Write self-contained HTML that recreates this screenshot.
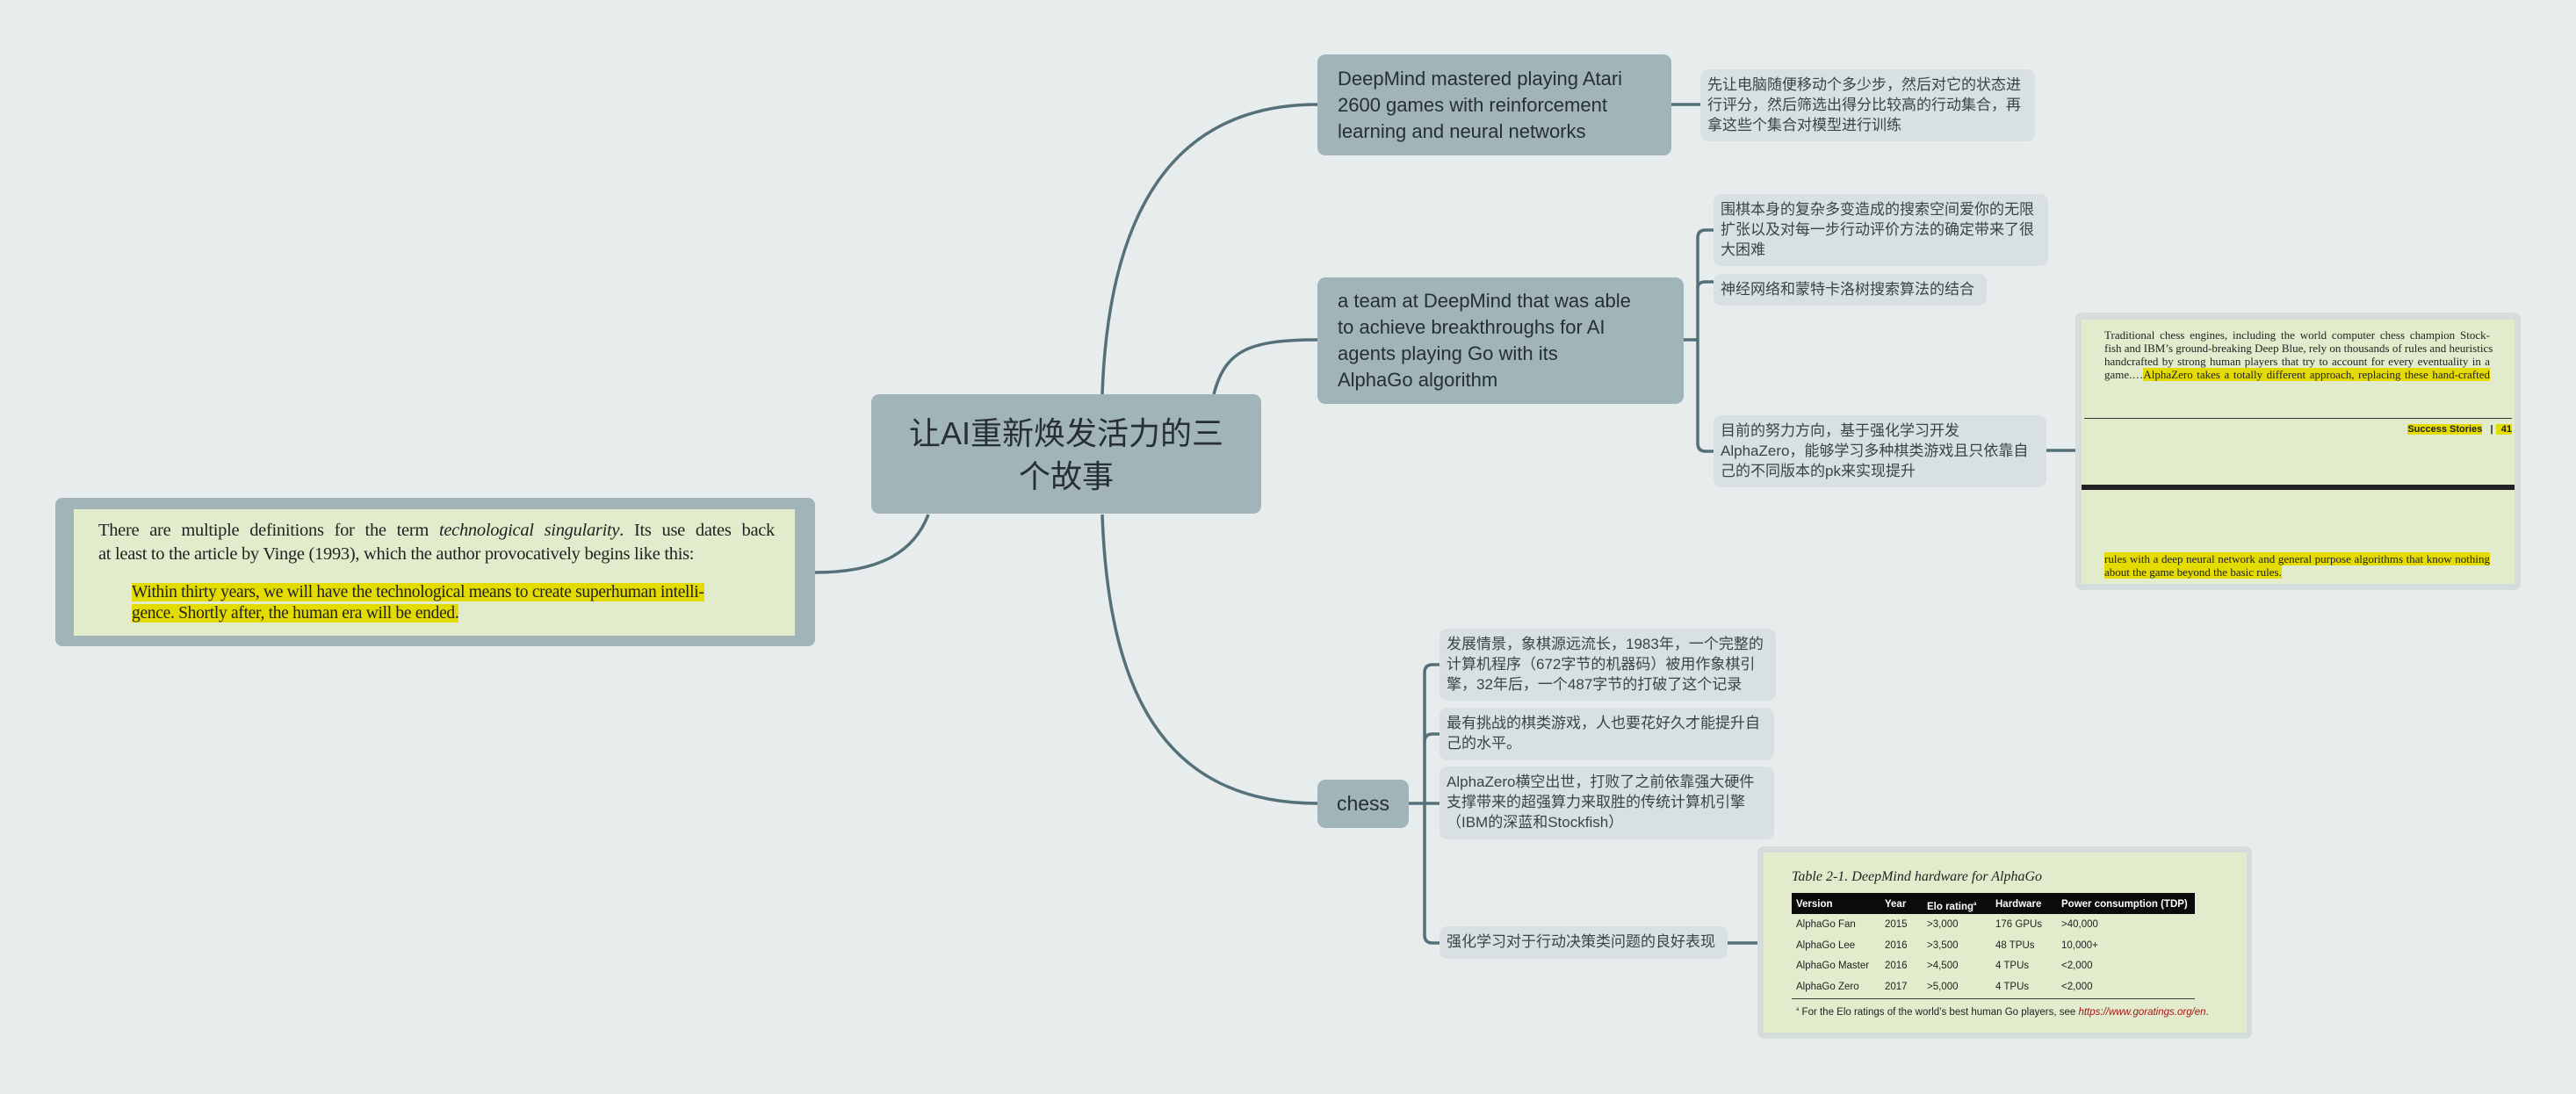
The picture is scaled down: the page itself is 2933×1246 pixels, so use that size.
<!DOCTYPE html>
<html><head><meta charset="utf-8">
<style>
*{margin:0;padding:0;box-sizing:border-box}
body{width:2933px;height:1246px;background:#e7eded;position:relative;overflow:hidden;font-family:"Liberation Sans","Noto Sans CJK SC",sans-serif;color:#2f3638}
.a{position:absolute}
.node{background:#a1b4b9;border-radius:9px;font-size:22px;line-height:30px;color:#263033}
.note{background:#d9e0e2;border-radius:9px;font-size:17px;line-height:23px;color:#3a4346;padding:6px 8px}
.serif{font-family:"Liberation Serif","Noto Serif CJK SC",serif}
.hl{background:#e4dc00}
.jl{text-align:justify;text-align-last:justify;white-space:nowrap}
.nar{font-family:"Liberation Sans Narrow","Liberation Sans",sans-serif}
</style></head><body>
<svg class="a" style="left:0;top:0" width="2933" height="1246">
<g fill="none" stroke="#56707a" stroke-width="3.5">
<path d="M1255,449 C1262,250 1330,119 1500,119"/>
<path d="M1382,449 C1395,400 1420,387 1500,387"/>
<path d="M1255,586 C1262,780 1320,915 1500,915"/>
<path d="M1057,586 C1040,630 1000,652 928,652"/>
<path d="M1903,119 H1936"/>
<path d="M1917,387 H1933"/>
<path d="M1951,262 H1942 Q1933,262 1933,271 V505 Q1933,514 1942,514 H1951"/>
<path d="M1933,328 Q1933,321 1942,321 H1951"/>
<path d="M2330,513 H2363"/>
<path d="M1604,915 H1639"/>
<path d="M1639,757 H1631 Q1622,757 1622,766 V1065 Q1622,1074 1631,1074 H1639"/>
<path d="M1622,845 Q1622,836 1631,836 H1639"/>
<path d="M1967,1074 H2001"/>
</g></svg>

<!-- central -->
<div class="a node" style="left:992px;top:449px;width:444px;height:136px;font-size:36px;line-height:49px;text-align:center;padding-top:20px">让AI重新焕发活力的三<br>个故事</div>

<!-- left quote -->
<div class="a" style="left:63px;top:567px;width:865px;height:169px;background:#a1b4b9;border-radius:8px"></div>
<div class="a serif" style="left:84px;top:580px;width:821px;height:144px;background:#e2eccc;font-size:20.5px;line-height:27px;color:#222">
<div class="jl" style="position:absolute;left:28px;top:11px;width:770px;letter-spacing:-0.3px">There are multiple definitions for the term <i>technological singularity</i>. Its use dates back</div>
<div style="position:absolute;left:28px;top:38px;white-space:nowrap;letter-spacing:-0.3px">at least to the article by Vinge (1993), which the author provocatively begins like this:</div>
<div style="position:absolute;left:66px;top:83px;font-size:19.5px;line-height:24px;white-space:nowrap;letter-spacing:-0.3px"><span class="hl">Within thirty years, we will have the technological means to create superhuman intelli-</span><br><span class="hl">gence. Shortly after, the human era will be ended.</span></div>
</div>

<!-- Atari -->
<div class="a node" style="left:1500px;top:62px;width:403px;height:115px;padding:13px 0 0 23px">DeepMind mastered playing Atari<br>2600 games with reinforcement<br>learning and neural networks</div>
<div class="a note" style="left:1936px;top:79px;width:381px;height:82px">先让电脑随便移动个多少步，然后对它的状态进行评分，然后筛选出得分比较高的行动集合，再拿这些个集合对模型进行训练</div>

<!-- Go -->
<div class="a node" style="left:1500px;top:316px;width:417px;height:144px;padding:12px 0 0 23px">a team at DeepMind that was able<br>to achieve breakthroughs for AI<br>agents playing Go with its<br>AlphaGo algorithm</div>
<div class="a note" style="left:1951px;top:221px;width:381px;height:82px">围棋本身的复杂多变造成的搜索空间爱你的无限扩张以及对每一步行动评价方法的确定带来了很大困难</div>
<div class="a note" style="left:1951px;top:312px;width:311px;height:36px">神经网络和蒙特卡洛树搜索算法的结合</div>
<div class="a note" style="left:1951px;top:473px;width:379px;height:82px">目前的努力方向，基于强化学习开发AlphaZero，能够学习多种棋类游戏且只依靠自己的不同版本的pk来实现提升</div>

<!-- image AlphaZero -->
<div class="a" style="left:2363px;top:356px;width:507px;height:316px;background:#d5dcdc;border-radius:7px"></div>
<div class="a serif" style="left:2370px;top:364px;width:493px;height:301px;background:#e2eccc;font-size:13px;line-height:15px;color:#222">
<div class="jl" style="position:absolute;left:26px;top:10px;width:439px">Traditional chess engines, including the world computer chess champion Stock-</div>
<div class="jl" style="position:absolute;left:26px;top:25px;width:439px">fish and IBM’s ground-breaking Deep Blue, rely on thousands of rules and heuristics</div>
<div class="jl" style="position:absolute;left:26px;top:40px;width:439px">handcrafted by strong human players that try to account for every eventuality in a</div>
<div class="jl" style="position:absolute;left:26px;top:55px;width:439px">game.…<span class="hl">AlphaZero takes a totally different approach, replacing these hand-crafted</span></div>
<div style="position:absolute;left:3px;top:112px;width:487px;height:1px;background:#333"></div>
<div class="nar" style="position:absolute;right:3px;top:118px;font-size:11px;font-weight:bold;white-space:nowrap"><span class="hl">Success Stories</span>&nbsp;&nbsp;&nbsp;<span>|</span>&nbsp;<span class="hl">&nbsp;&nbsp;41</span></div>
<div style="position:absolute;left:0;top:188px;width:493px;height:6px;background:#222"></div>
<div class="jl" style="position:absolute;left:26px;top:265px;width:439px"><span class="hl">rules with a deep neural network and general purpose algorithms that know nothing</span></div>
<div style="position:absolute;left:26px;top:280px;white-space:nowrap"><span class="hl">about the game beyond the basic rules.</span></div>
</div>

<!-- chess -->
<div class="a node" style="left:1500px;top:888px;width:104px;height:55px;line-height:55px;text-align:center;font-size:23px">chess</div>
<div class="a note" style="left:1639px;top:716px;width:383px;height:82px">发展情景，象棋源远流长，1983年，一个完整的计算机程序（672字节的机器码）被用作象棋引擎，32年后，一个487字节的打破了这个记录</div>
<div class="a note" style="left:1639px;top:806px;width:381px;height:60px">最有挑战的棋类游戏，人也要花好久才能提升自己的水平。</div>
<div class="a note" style="left:1639px;top:873px;width:381px;height:83px">AlphaZero横空出世，打败了之前依靠强大硬件支撑带来的超强算力来取胜的传统计算机引擎（IBM的深蓝和Stockfish）</div>
<div class="a note" style="left:1639px;top:1055px;width:328px;height:37px">强化学习对于行动决策类问题的良好表现</div>

<!-- table image -->
<div class="a" style="left:2001px;top:964px;width:563px;height:219px;background:#d5dcdc;border-radius:7px"></div>
<div class="a nar" style="left:2008px;top:971px;width:550px;height:205px;background:#e2eccc;font-size:11.5px;color:#222">
<div class="serif" style="position:absolute;left:32px;top:19px;font-size:16px;font-style:italic;white-space:nowrap">Table 2-1. DeepMind hardware for AlphaGo</div>
<div style="position:absolute;left:32px;top:46px;width:459px;height:24px;background:#0b0b0b"></div>
<div style="position:absolute;left:32px;top:166px;width:459px;height:1px;background:#444"></div>
<div style="position:absolute;left:0;top:0;width:550px;height:205px;line-height:14px;white-space:nowrap">
<div style="position:absolute;left:37px;top:52px;color:#fff;font-weight:bold">Version</div>
<div style="position:absolute;left:138px;top:52px;color:#fff;font-weight:bold">Year</div>
<div style="position:absolute;left:186px;top:52px;color:#fff;font-weight:bold">Elo rating<sup style="font-size:6px">a</sup></div>
<div style="position:absolute;left:264px;top:52px;color:#fff;font-weight:bold">Hardware</div>
<div style="position:absolute;left:339px;top:52px;color:#fff;font-weight:bold">Power consumption (TDP)</div>
<div style="position:absolute;left:37px;top:75px">AlphaGo Fan</div><div style="position:absolute;left:138px;top:75px">2015</div><div style="position:absolute;left:186px;top:75px">&gt;3,000</div><div style="position:absolute;left:264px;top:75px">176 GPUs</div><div style="position:absolute;left:339px;top:75px">&gt;40,000</div>
<div style="position:absolute;left:37px;top:99px">AlphaGo Lee</div><div style="position:absolute;left:138px;top:99px">2016</div><div style="position:absolute;left:186px;top:99px">&gt;3,500</div><div style="position:absolute;left:264px;top:99px">48 TPUs</div><div style="position:absolute;left:339px;top:99px">10,000+</div>
<div style="position:absolute;left:37px;top:122px">AlphaGo Master</div><div style="position:absolute;left:138px;top:122px">2016</div><div style="position:absolute;left:186px;top:122px">&gt;4,500</div><div style="position:absolute;left:264px;top:122px">4 TPUs</div><div style="position:absolute;left:339px;top:122px">&lt;2,000</div>
<div style="position:absolute;left:37px;top:146px">AlphaGo Zero</div><div style="position:absolute;left:138px;top:146px">2017</div><div style="position:absolute;left:186px;top:146px">&gt;5,000</div><div style="position:absolute;left:264px;top:146px">4 TPUs</div><div style="position:absolute;left:339px;top:146px">&lt;2,000</div>
<div style="position:absolute;left:37px;top:172px"><sup style="font-size:6px">a</sup> For the Elo ratings of the world’s best human Go players, see <i style="color:#a01818">https://www.goratings.org/en</i>.</div>
</div>
</div>
</body></html>
